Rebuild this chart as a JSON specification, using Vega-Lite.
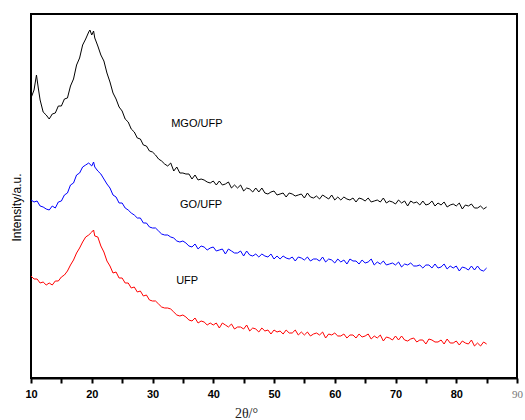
{
  "$schema": "https://vega.github.io/schema/vega-lite/v6.json",
  "width": 486,
  "height": 364,
  "autosize": "none",
  "padding": {"left": 31, "top": 14, "right": 8, "bottom": 42},
  "background": "white",
  "config": {"view": {"stroke": "black", "strokeWidth": 2}},
  "datasets": {
    "mgo": [
      {"x":10,"y":280},{"x":10.5,"y":288},{"x":10.9,"y":303},{"x":11.2,"y":290},{"x":11.5,"y":278},{"x":12,"y":266},{"x":12.5,"y":263},{"x":13,"y":259},{"x":13.5,"y":264},{"x":14,"y":265},{"x":14.5,"y":272},{"x":15,"y":272},{"x":15.5,"y":279},{"x":16,"y":280},{"x":16.5,"y":292},{"x":17,"y":299},{"x":17.5,"y":313},{"x":18,"y":320},{"x":18.5,"y":333},{"x":19,"y":339},{"x":19.5,"y":346},{"x":19.7,"y":348},{"x":20,"y":343},{"x":20.3,"y":347},{"x":20.5,"y":340},{"x":21,"y":332},{"x":21.5,"y":323},{"x":22,"y":317},{"x":22.5,"y":305},{"x":23,"y":296},{"x":23.5,"y":285},{"x":24,"y":279},{"x":24.5,"y":271},{"x":25,"y":267},{"x":25.5,"y":259},{"x":26,"y":256},{"x":26.5,"y":249},{"x":27,"y":246},{"x":27.5,"y":240},{"x":28,"y":239},{"x":28.5,"y":233},{"x":29,"y":232},{"x":29.5,"y":227},{"x":30,"y":226},{"x":30.5,"y":223},{"x":31,"y":219},{"x":31.5,"y":217},{"x":32,"y":214},{"x":32.5,"y":212},{"x":33,"y":215},{"x":33.5,"y":207},{"x":34,"y":211},{"x":34.5,"y":205},{"x":35,"y":205},{"x":35.5,"y":204},{"x":36,"y":204},{"x":36.5,"y":199},{"x":37,"y":203},{"x":37.5,"y":198},{"x":38,"y":199},{"x":38.5,"y":198},{"x":39,"y":196},{"x":39.5,"y":195},
      {"x":40,"y":197},{"x":40.5,"y":193},{"x":41,"y":197},{"x":41.5,"y":193},{"x":42,"y":194},{"x":42.5,"y":196},{"x":43,"y":190},{"x":43.5,"y":193},{"x":44,"y":190},{"x":44.5,"y":193},{"x":45,"y":187},{"x":45.5,"y":190},{"x":46,"y":189},{"x":46.5,"y":186},{"x":47,"y":190},{"x":47.5,"y":186},{"x":48,"y":190},{"x":48.5,"y":185},{"x":49,"y":184},{"x":49.5,"y":186},{"x":50,"y":187},{"x":50.5,"y":183},{"x":51,"y":184},{"x":51.5,"y":185},{"x":52,"y":181},{"x":52.5,"y":185},{"x":53,"y":184},{"x":53.5,"y":182},{"x":54,"y":183},{"x":54.5,"y":184},{"x":55,"y":180},{"x":55.5,"y":185},{"x":56,"y":181},{"x":56.5,"y":180},{"x":57,"y":182},{"x":57.5,"y":179},{"x":58,"y":183},{"x":58.5,"y":181},{"x":59,"y":179},{"x":59.5,"y":183},{"x":60,"y":178},{"x":60.5,"y":181},{"x":61,"y":178},{"x":61.5,"y":181},{"x":62,"y":179},{"x":62.5,"y":178},{"x":63,"y":180},{"x":63.5,"y":176},{"x":64,"y":180},{"x":64.5,"y":179},{"x":65,"y":177},{"x":65.5,"y":180},{"x":66,"y":176},{"x":66.5,"y":177},{"x":67,"y":178},{"x":67.5,"y":176},{"x":68,"y":180},{"x":68.5,"y":175},{"x":69,"y":177},{"x":69.5,"y":176},{"x":70,"y":174},{"x":70.5,"y":178},{"x":71,"y":175},{"x":71.5,"y":177},{"x":72,"y":172},{"x":72.5,"y":177},{"x":73,"y":175},{"x":73.5,"y":176},{"x":74,"y":173},{"x":74.5,"y":177},{"x":75,"y":173},{"x":75.5,"y":174},{"x":76,"y":177},{"x":76.5,"y":172},{"x":77,"y":175},{"x":77.5,"y":173},{"x":78,"y":176},{"x":78.5,"y":171},{"x":79,"y":173},{"x":79.5,"y":174},{"x":80,"y":172},{"x":80.5,"y":175},{"x":81,"y":169},{"x":81.5,"y":173},{"x":82,"y":172},{"x":82.5,"y":174},{"x":83,"y":170},{"x":83.5,"y":170},{"x":84,"y":172},{"x":84.5,"y":169},{"x":85,"y":171}
    ],
    "go": [
      {"x":10,"y":178},{"x":10.5,"y":176},{"x":11,"y":177},{"x":11.5,"y":172},{"x":12,"y":171},{"x":12.5,"y":169},{"x":13,"y":168},{"x":13.5,"y":172},{"x":14,"y":170},{"x":14.5,"y":176},{"x":15,"y":177},{"x":15.5,"y":183},{"x":16,"y":185},{"x":16.5,"y":193},{"x":17,"y":195},{"x":17.5,"y":203},{"x":18,"y":205},{"x":18.5,"y":211},{"x":19,"y":213},{"x":19.5,"y":215},{"x":20,"y":212},{"x":20.3,"y":216},{"x":20.5,"y":211},{"x":21,"y":207},{"x":21.5,"y":204},{"x":22,"y":199},{"x":22.5,"y":194},{"x":23,"y":190},{"x":23.5,"y":183},{"x":24,"y":181},{"x":24.5,"y":175},{"x":25,"y":175},{"x":25.5,"y":170},{"x":26,"y":168},{"x":26.5,"y":165},{"x":27,"y":163},{"x":27.5,"y":160},{"x":28,"y":160},{"x":28.5,"y":155},{"x":29,"y":155},{"x":29.5,"y":151},{"x":30,"y":150},{"x":30.5,"y":150},{"x":31,"y":147},{"x":31.5,"y":144},{"x":32,"y":143},{"x":32.5,"y":143},{"x":33,"y":141},{"x":33.5,"y":140},{"x":34,"y":137},{"x":34.5,"y":136},{"x":35,"y":137},{"x":35.5,"y":135},{"x":36,"y":132},{"x":36.5,"y":131},{"x":37,"y":134},{"x":37.5,"y":129},{"x":38,"y":132},{"x":38.5,"y":131},{"x":39,"y":128},{"x":39.5,"y":130},
      {"x":40,"y":131},{"x":40.5,"y":127},{"x":41,"y":128},{"x":41.5,"y":129},{"x":42,"y":124},{"x":42.5,"y":129},{"x":43,"y":127},{"x":43.5,"y":125},{"x":44,"y":125},{"x":44.5,"y":127},{"x":45,"y":122},{"x":45.5,"y":127},{"x":46,"y":123},{"x":46.5,"y":122},{"x":47,"y":124},{"x":47.5,"y":121},{"x":48,"y":124},{"x":48.5,"y":122},{"x":49,"y":121},{"x":49.5,"y":124},{"x":50,"y":119},{"x":50.5,"y":122},{"x":51,"y":119},{"x":51.5,"y":122},{"x":52,"y":120},{"x":52.5,"y":119},{"x":53,"y":121},{"x":53.5,"y":117},{"x":54,"y":121},{"x":54.5,"y":120},{"x":55,"y":118},{"x":55.5,"y":121},{"x":56,"y":117},{"x":56.5,"y":119},{"x":57,"y":119},{"x":57.5,"y":117},{"x":58,"y":121},{"x":58.5,"y":116},{"x":59,"y":119},{"x":59.5,"y":118},{"x":60,"y":115},{"x":60.5,"y":119},{"x":61,"y":116},{"x":61.5,"y":118},{"x":62,"y":114},{"x":62.5,"y":119},{"x":63,"y":117},{"x":63.5,"y":117},{"x":64,"y":114},{"x":64.5,"y":118},{"x":65,"y":115},{"x":65.5,"y":116},{"x":66,"y":119},{"x":66.5,"y":113},{"x":67,"y":116},{"x":67.5,"y":114},{"x":68,"y":117},{"x":68.5,"y":113},{"x":69,"y":114},{"x":69.5,"y":115},{"x":70,"y":113},{"x":70.5,"y":116},{"x":71,"y":111},{"x":71.5,"y":114},{"x":72,"y":113},{"x":72.5,"y":115},{"x":73,"y":112},{"x":73.5,"y":112},{"x":74,"y":113},{"x":74.5,"y":110},{"x":75,"y":113},{"x":75.5,"y":113},{"x":76,"y":110},{"x":76.5,"y":114},{"x":77,"y":110},{"x":77.5,"y":111},{"x":78,"y":114},{"x":78.5,"y":109},{"x":79,"y":112},{"x":79.5,"y":110},{"x":80,"y":112},{"x":80.5,"y":107},{"x":81,"y":111},{"x":81.5,"y":110},{"x":82,"y":108},{"x":82.5,"y":112},{"x":83,"y":108},{"x":83.5,"y":112},{"x":84,"y":108},{"x":84.5,"y":107},{"x":85,"y":110}
    ],
    "ufp": [
      {"x":10,"y":102},{"x":10.5,"y":99},{"x":11,"y":99},{"x":11.5,"y":95},{"x":12,"y":96},{"x":12.5,"y":93},{"x":13,"y":95},{"x":13.5,"y":93},{"x":14,"y":97},{"x":14.5,"y":97},{"x":15,"y":101},{"x":15.5,"y":103},{"x":16,"y":107},{"x":16.5,"y":113},{"x":17,"y":118},{"x":17.5,"y":125},{"x":18,"y":130},{"x":18.5,"y":136},{"x":19,"y":141},{"x":19.5,"y":143},{"x":20,"y":146},{"x":20.3,"y":148},{"x":20.5,"y":142},{"x":21,"y":141},{"x":21.5,"y":132},{"x":22,"y":126},{"x":22.5,"y":117},{"x":23,"y":112},{"x":23.5,"y":105},{"x":24,"y":106},{"x":24.5,"y":100},{"x":25,"y":100},{"x":25.5,"y":95},{"x":26,"y":95},{"x":26.5,"y":90},{"x":27,"y":91},{"x":27.5,"y":86},{"x":28,"y":87},{"x":28.5,"y":82},{"x":29,"y":83},{"x":29.5,"y":78},{"x":30,"y":77},{"x":30.5,"y":77},{"x":31,"y":74},{"x":31.5,"y":71},{"x":32,"y":70},{"x":32.5,"y":70},{"x":33,"y":69},{"x":33.5,"y":66},{"x":34,"y":63},{"x":34.5,"y":62},{"x":35,"y":63},{"x":35.5,"y":61},{"x":36,"y":58},{"x":36.5,"y":57},{"x":37,"y":60},{"x":37.5,"y":55},{"x":38,"y":57},{"x":38.5,"y":56},{"x":39,"y":53},{"x":39.5,"y":55},
      {"x":40,"y":53},{"x":40.5,"y":55},{"x":41,"y":50},{"x":41.5,"y":55},{"x":42,"y":53},{"x":42.5,"y":51},{"x":43,"y":54},{"x":43.5,"y":49},{"x":44,"y":51},{"x":44.5,"y":51},{"x":45,"y":49},{"x":45.5,"y":53},{"x":46,"y":47},{"x":46.5,"y":50},{"x":47,"y":49},{"x":47.5,"y":46},{"x":48,"y":50},{"x":48.5,"y":47},{"x":49,"y":48},{"x":49.5,"y":44},{"x":50,"y":48},{"x":50.5,"y":46},{"x":51,"y":47},{"x":51.5,"y":44},{"x":52,"y":48},{"x":52.5,"y":45},{"x":53,"y":45},{"x":53.5,"y":48},{"x":54,"y":43},{"x":54.5,"y":46},{"x":55,"y":43},{"x":55.5,"y":46},{"x":56,"y":42},{"x":56.5,"y":44},{"x":57,"y":45},{"x":57.5,"y":43},{"x":58,"y":46},{"x":58.5,"y":40},{"x":59,"y":44},{"x":59.5,"y":43},{"x":60,"y":45},{"x":60.5,"y":42},{"x":61,"y":42},{"x":61.5,"y":44},{"x":62,"y":40},{"x":62.5,"y":43},{"x":63,"y":43},{"x":63.5,"y":40},{"x":64,"y":44},{"x":64.5,"y":41},{"x":65,"y":42},{"x":65.5,"y":44},{"x":66,"y":39},{"x":66.5,"y":42},{"x":67,"y":40},{"x":67.5,"y":43},{"x":68,"y":37},{"x":68.5,"y":41},{"x":69,"y":40},{"x":69.5,"y":38},{"x":70,"y":42},{"x":70.5,"y":38},{"x":71,"y":42},{"x":71.5,"y":38},{"x":72,"y":37},{"x":72.5,"y":39},{"x":73,"y":40},{"x":73.5,"y":36},{"x":74,"y":38},{"x":74.5,"y":38},{"x":75,"y":34},{"x":75.5,"y":39},{"x":76,"y":38},{"x":76.5,"y":36},{"x":77,"y":36},{"x":77.5,"y":38},{"x":78,"y":34},{"x":78.5,"y":39},{"x":79,"y":35},{"x":79.5,"y":35},{"x":80,"y":37},{"x":80.5,"y":33},{"x":81,"y":37},{"x":81.5,"y":35},{"x":82,"y":34},{"x":82.5,"y":38},{"x":83,"y":32},{"x":83.5,"y":35},{"x":84,"y":32},{"x":84.5,"y":36},{"x":85,"y":34}
    ],
    "labels": [
      {"x":37.3,"y":254,"t":"MGO/UFP"},
      {"x":38.0,"y":173,"t":"GO/UFP"},
      {"x":35.7,"y":97,"t":"UFP"}
    ]
  },
  "encoding": {
    "x": {
      "field": "x", "type": "quantitative",
      "scale": {"domain": [10, 90], "nice": false, "zero": false},
      "axis": {
        "title": "2θ/°",
        "titleFont": "Liberation Serif", "titleFontSize": 14, "titleFontWeight": "normal", "titleColor": "#222",
        "titleX": 215, "titleY": 39, "titleBaseline": "alphabetic", "titleAlign": "center",
        "values": [10,15,20,25,30,35,40,45,50,55,60,65,70,75,80,85,90],
        "labelExpr": "datum.value % 10 == 0 ? datum.label : ''",
        "labelFont": {"condition": {"test": "datum.value == 90", "value": "Liberation Serif"}, "value": "Liberation Sans"},
        "labelFontWeight": {"condition": {"test": "datum.value == 90", "value": "normal"}, "value": "bold"},
        "labelColor": {"condition": {"test": "datum.value == 90", "value": "#777777"}, "value": "black"},
        "labelFontSize": 11, "labelPadding": 5, "labelFlush": false,
        "tickSize": 5, "tickWidth": 2, "tickColor": "black",
        "domainColor": "black", "domainWidth": 2, "grid": false
      }
    },
    "y": {
      "field": "y", "type": "quantitative",
      "scale": {"domain": [0, 364], "nice": false},
      "axis": {
        "title": "Intensity/a.u.",
        "titleFont": "Liberation Sans", "titleFontSize": 12, "titleFontWeight": "normal", "titleColor": "black",
        "titleX": -11, "titleY": 193, "titleAngle": -90, "titleAlign": "center", "titleBaseline": "alphabetic",
        "labels": false, "ticks": false, "domain": false, "grid": false
      }
    }
  },
  "layer": [
    {"data": {"name": "mgo"}, "mark": {"type": "line", "color": "black", "strokeWidth": 1}},
    {"data": {"name": "go"}, "mark": {"type": "line", "color": "#0000ff", "strokeWidth": 1}},
    {"data": {"name": "ufp"}, "mark": {"type": "line", "color": "#ff0000", "strokeWidth": 1}},
    {"data": {"name": "labels"}, "mark": {"type": "text", "font": "Liberation Sans", "fontSize": 11, "color": "black", "align": "center", "baseline": "middle"}, "encoding": {"text": {"field": "t"}}}
  ]
}
